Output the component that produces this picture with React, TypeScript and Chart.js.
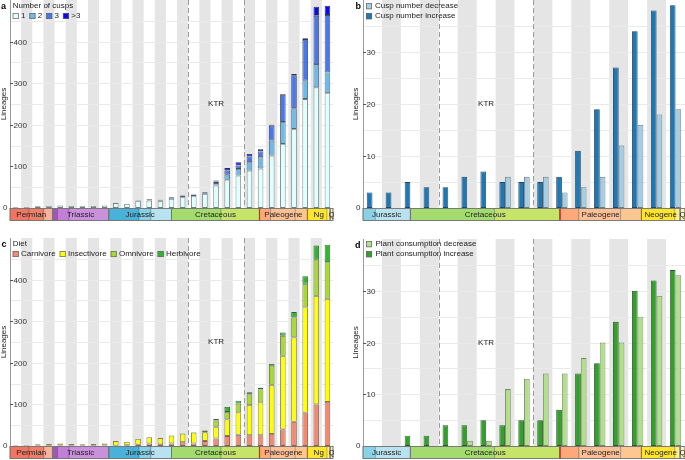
import React, { useEffect, useRef } from 'react';
import { Chart, registerables } from 'chart.js';
Chart.register(...registerables);

const FONT = '"Liberation Sans", Arial, Helvetica, sans-serif';
const BIN = 10; // Myr per bin
const STRIPE = '#E5E5E5';

// ---- categories (time bins, Ma) ----
const binsLong = ['290-280', '280-270', '270-260', '260-250', '250-240', '240-230', '230-220', '220-210', '210-200', '200-190', '190-180', '180-170', '170-160', '160-150', '150-140', '140-130', '130-120', '120-110', '110-100', '100-90', '90-80', '80-70', '70-60', '60-50', '50-40', '40-30', '30-20', '20-10', '10-0'];
const binsShort = ['170-160', '160-150', '150-140', '140-130', '130-120', '120-110', '110-100', '100-90', '90-80', '80-70', '70-60', '60-50', '50-40', '40-30', '30-20', '20-10', '10-0'];

// ---- panel a: number of cusps ----
const cusp1 = [2, 2, 4, 5, 6, 5, 4, 5, 6, 12, 10, 17, 18, 16, 22, 26, 29, 34, 54, 68, 78, 90, 95, 126, 154, 190, 262, 290, 276];
const cusp2 = [0, 0, 0, 0, 0, 0, 0, 0, 0, 0, 0, 1, 1, 2, 2, 3, 3, 2, 6, 12, 16, 20, 27, 36, 53, 50, 44, 56, 50];
const cusp3 = [0, 0, 0, 0, 0, 0, 0, 0, 0, 0, 0, 0, 2, 2, 2, 1, 1, 2, 4, 10, 8, 14, 14, 36, 65, 78, 98, 116, 138];
const cusp4 = [0, 0, 0, 0, 0, 0, 0, 0, 0, 0, 0, 0, 0, 0, 0, 0, 0, 0, 2, 6, 8, 6, 5, 2, 2, 4, 4, 22, 22];

// ---- panel b: cusp number change ----
const cuspIncrease = [3, 3, 5, 4, 4, 6, 7, 5, 5, 5, 6, 11, 19, 27, 34, 38, 39];
const cuspDecrease = [0, 0, 0, 0, 0, 0, 0, 6, 6, 6, 3, 4, 6, 12, 16, 18, 19];

// ---- panel c: diet ----
const carnivore = [1, 1, 1, 1, 1, 1, 1, 1, 1, 1, 2, 3, 6, 4, 6, 9, 6, 12, 18, 24, 27, 26, 26, 29, 40, 58, 80, 100, 106];
const insectivore = [1, 1, 3, 4, 5, 4, 3, 4, 5, 11, 8, 14, 15, 15, 19, 21, 26, 21, 28, 40, 54, 72, 79, 118, 177, 203, 253, 261, 248];
const omnivore = [0, 0, 0, 0, 0, 0, 0, 0, 0, 0, 0, 0, 0, 0, 0, 0, 0, 4, 15, 18, 21, 26, 31, 46, 48, 48, 57, 87, 88];
const herbivore = [0, 0, 0, 0, 0, 0, 0, 0, 0, 0, 0, 0, 0, 0, 0, 0, 1, 1, 4, 12, 7, 5, 4, 5, 8, 13, 18, 34, 42];

// ---- panel d: plant consumption change ----
const plantIncrease = [0, 0, 2, 2, 4, 4, 5, 4, 5, 5, 7, 14, 16, 24, 30, 32, 34];
const plantDecrease = [0, 0, 0, 0, 0, 1, 1, 11, 13, 14, 14, 17, 20, 20, 25, 29, 33];

// ---- axis ticks ----
const ticksLarge = [100, 200, 300, 400];
const ticksSmall = [10, 20, 30];

// ---- geological time scale (Ma) ----
const epochNames = ['Cisuralian', 'Guadalupian', 'Lopingian', 'Early Triassic', 'Middle Triassic', 'Late Triassic', 'Early Jurassic', 'Middle Jurassic', 'Late Jurassic', 'Early Cretaceous', 'Late Cretaceous', 'Paleocene', 'Eocene', 'Oligocene', 'Miocene', 'Pliocene', 'Quaternary'];
const epochStart = [298.9, 273.0, 259.5, 251.9, 247.2, 237.0, 201.3, 174.1, 163.5, 145.0, 100.5, 66.0, 56.0, 33.9, 23.03, 5.33, 2.58];
const epochEnd = [273.0, 259.5, 251.9, 247.2, 237.0, 201.3, 174.1, 163.5, 145.0, 100.5, 66.0, 56.0, 33.9, 23.03, 5.33, 2.58, 0];
const epochColors = ['#F07562', '#F37E66', '#FAB29E', '#A555B8', '#C27FD6', '#C991DC', '#48B2DB', '#88D1E6', '#B9E2F1', '#A3DB6E', '#C6E46A', '#FDA97A', '#FDBF94', '#FEC690', '#FFE52C', '#FFF08E', '#FFF2C2'];
const periodLong = ['Permian', 'Triassic', 'Jurassic', 'Cretaceous', 'Paleogene', 'Neogene', 'Q'];
const periodShort = ['Permian', 'Triassic', 'Jurassic', 'Cretaceous', 'Paleogene', 'Ng', 'Q'];
const periodStart = [298.9, 251.9, 201.3, 145.0, 66.0, 23.03, 2.58];
const periodEnd = [251.9, 201.3, 145.0, 66.0, 23.03, 2.58, 0];
const ktrStart = 130;
const ktrEnd = 80;
const kpg = 66;

type Panel = {
  letter: string;
  pos: { left: number; top: number; width: number; height: number };
  padding: { left: number; right: number; top: number; bottom: number };
  labels: string[];
  startAge: number;
  datasets: any[];
  stacked: boolean;
  barPct: number;
  catPct: number;
  yMax: number;
  yMinor: number;
  yTicks: number[];
  legendTitle?: string;
  legendRows: number[][];
  legendX: number;
  legendY: number;
  legendTextGap: number;
  periodNames: string[];
  clipLabels: boolean;
  letterX: number;
  letterY: number;
  titleX: number;
};

function makeDecor(p: Panel) {
  return {
    id: 'decor',
    beforeDatasetsDraw(chart: any) {
      const { ctx, chartArea: ca } = chart;
      const xs = chart.scales.x;
      const ys = chart.scales.y;
      const n = chart.data.labels.length;
      const px = (age: number) => xs.getPixelForValue((p.startAge - age) / BIN - 0.5);
      ctx.save();
      ctx.fillStyle = '#FFFFFF';
      ctx.fillRect(ca.left, ca.top, ca.right - ca.left, ca.bottom - ca.top);
      ctx.fillStyle = STRIPE;
      for (let i = 1; i < n; i += 2) {
        const x0 = xs.getPixelForValue(i - 0.5);
        const x1 = xs.getPixelForValue(i + 0.5);
        ctx.fillRect(x0, ca.top, x1 - x0, ca.bottom - ca.top);
      }
      ctx.strokeStyle = '#EAEAEA';
      ctx.lineWidth = 1;
      for (let v = p.yMinor; v < p.yMax; v += p.yMinor) {
        const y = Math.round(ys.getPixelForValue(v)) + 0.5;
        ctx.beginPath();
        ctx.moveTo(ca.left, y);
        ctx.lineTo(ca.right, y);
        ctx.stroke();
      }
      ctx.strokeStyle = '#9A9A9A';
      ctx.setLineDash([5, 3]);
      for (const age of [ktrStart, ktrEnd]) {
        const x = Math.round(px(age)) + 0.5;
        ctx.beginPath();
        ctx.moveTo(x, ca.top);
        ctx.lineTo(x, ca.bottom);
        ctx.stroke();
      }
      ctx.setLineDash([]);
      ctx.restore();
    },
    afterDatasetsDraw(chart: any) {
      const { ctx, chartArea: ca } = chart;
      const xs = chart.scales.x;
      const ys = chart.scales.y;
      const px = (age: number) => xs.getPixelForValue((p.startAge - age) / BIN - 0.5);
      const midY = (ca.top + ca.bottom) / 2;
      ctx.save();
      ctx.font = `8px ${FONT}`;
      ctx.textBaseline = 'middle';
      // KTR label
      ctx.fillStyle = '#222';
      ctx.textAlign = 'center';
      ctx.fillText('KTR', px((ktrStart + ktrEnd) / 2), midY);
      // left axis
      ctx.strokeStyle = '#9A9A9A';
      ctx.lineWidth = 1;
      const ax = Math.round(ca.left) + 0.5;
      ctx.beginPath();
      ctx.moveTo(ax, ca.top);
      ctx.lineTo(ax, ca.bottom);
      ctx.stroke();
      // ticks (inside)
      ctx.strokeStyle = '#555';
      ctx.textAlign = 'left';
      ctx.fillStyle = '#333';
      for (const v of p.yTicks) {
        const y = Math.round(ys.getPixelForValue(v)) + 0.5;
        ctx.beginPath();
        ctx.moveTo(ca.left, y);
        ctx.lineTo(ca.left + 3, y);
        ctx.stroke();
        ctx.fillText(String(v), ca.left + 3.5, y);
      }
      ctx.textAlign = 'right';
      ctx.fillText('0', ca.left - 2.5, ys.getPixelForValue(0));
      // y title
      ctx.save();
      ctx.translate(p.titleX, midY);
      ctx.rotate(-Math.PI / 2);
      ctx.textAlign = 'center';
      ctx.fillStyle = '#222';
      ctx.fillText('Lineages', 0, 0);
      ctx.restore();
      // time bar
      const t0 = ca.bottom;
      const t1 = ca.bottom + 13;
      for (let i = 0; i < epochNames.length; i++) {
        const s = Math.min(epochStart[i], p.startAge);
        const e = Math.max(epochEnd[i], 0);
        if (s <= e) continue;
        const x0 = px(s);
        const x1 = px(e);
        ctx.fillStyle = epochColors[i];
        ctx.fillRect(x0, t0, x1 - x0, t1 - t0);
        ctx.strokeStyle = 'rgba(0,0,0,0.28)';
        ctx.lineWidth = 0.7;
        ctx.strokeRect(x0, t0 + 0.5, x1 - x0, t1 - t0 - 1);
      }
      for (let i = 0; i < periodStart.length; i++) {
        const s = Math.min(periodStart[i], p.startAge);
        const e = Math.max(periodEnd[i], 0);
        if (s <= e) continue;
        const x0 = px(s);
        const x1 = px(e);
        ctx.strokeStyle = '#777';
        ctx.lineWidth = 0.9;
        ctx.strokeRect(x0, t0 + 0.5, x1 - x0, t1 - t0 - 1);
      }
      // K-Pg boundary
      ctx.strokeStyle = '#E8221B';
      ctx.lineWidth = 1.2;
      const kx = px(kpg);
      ctx.beginPath();
      ctx.moveTo(kx, t0 + 0.5);
      ctx.lineTo(kx, t1 - 0.5);
      ctx.stroke();
      // period labels
      ctx.fillStyle = '#222';
      ctx.textAlign = 'center';
      for (let i = 0; i < p.periodNames.length; i++) {
        const s = Math.min(periodStart[i], p.startAge);
        const e = Math.max(periodEnd[i], 0);
        if (s <= e) continue;
        const x0 = px(s);
        const x1 = px(e);
        ctx.save();
        if (p.clipLabels) {
          ctx.beginPath();
          ctx.rect(x0 - 1, t0, x1 - x0 + 2, t1 - t0);
          ctx.clip();
        }
        ctx.fillText(p.periodNames[i], (x0 + x1) / 2, (t0 + t1) / 2 + 0.5);
        ctx.restore();
      }
      // legend
      ctx.textAlign = 'left';
      let ly = p.legendY;
      if (p.legendTitle) {
        ctx.fillStyle = '#222';
        ctx.fillText(p.legendTitle, p.legendX, ly);
        ly += 10;
      }
      for (const row of p.legendRows) {
        let lx = p.legendX;
        for (const di of row) {
          const ds = chart.data.datasets[di];
          ctx.fillStyle = ds.backgroundColor;
          ctx.fillRect(lx, ly - 3, 6, 6);
          ctx.strokeStyle = '#666';
          ctx.lineWidth = 0.7;
          ctx.strokeRect(lx + 0.35, ly - 2.65, 5.3, 5.3);
          ctx.fillStyle = '#222';
          ctx.fillText(ds.label, lx + p.legendTextGap, ly);
          lx += p.legendTextGap + ctx.measureText(ds.label).width + 4;
        }
        ly += 10;
      }
      // panel letter
      ctx.font = `bold 9px ${FONT}`;
      ctx.textBaseline = 'alphabetic';
      ctx.fillStyle = '#000';
      ctx.fillText(p.letter, p.letterX, p.letterY);
      ctx.restore();
    },
  };
}

const barBase = { borderWidth: 0.9, borderSkipped: false as const };

const panels: Panel[] = [
  {
    letter: 'a',
    pos: { left: 0, top: 0, width: 340, height: 230 },
    padding: { left: 10, right: 7, top: 0, bottom: 22 },
    labels: binsLong,
    startAge: 290,
    datasets: [
      { label: '1', data: cusp1, backgroundColor: '#E0FFFF', borderColor: '#6E7E7E', ...barBase },
      { label: '2', data: cusp2, backgroundColor: '#6DBBE8', borderColor: '#52627A', ...barBase },
      { label: '3', data: cusp3, backgroundColor: '#4A78EA', borderColor: '#424A6A', ...barBase },
      { label: '>3', data: cusp4, backgroundColor: '#0A0AEE', borderColor: '#2E2E60', ...barBase },
    ],
    stacked: true,
    barPct: 0.5,
    catPct: 1,
    yMax: 500,
    yMinor: 50,
    yTicks: ticksLarge,
    legendTitle: 'Number of cusps',
    legendRows: [[0, 1, 2, 3]],
    legendX: 12.7,
    legendY: 6,
    legendTextGap: 8.3,
    periodNames: periodShort,
    clipLabels: true,
    letterX: 1,
    letterY: 9,
    titleX: 4,
  },
  {
    letter: 'b',
    pos: { left: 340, top: 0, width: 345, height: 230 },
    padding: { left: 23, right: 0, top: 0, bottom: 22 },
    labels: binsShort,
    startAge: 170,
    datasets: [
      { label: 'Cusp number increase', data: cuspIncrease, backgroundColor: '#1F78B4', borderColor: '#23435E', ...barBase },
      { label: 'Cusp number decrease', data: cuspDecrease, backgroundColor: '#A6CEE3', borderColor: '#6E7C86', ...barBase },
    ],
    stacked: false,
    barPct: 1,
    catPct: 0.6,
    yMax: 40,
    yMinor: 5,
    yTicks: ticksSmall,
    legendRows: [[1], [0]],
    legendX: 26,
    legendY: 6.2,
    legendTextGap: 9,
    periodNames: periodLong,
    clipLabels: false,
    letterX: 15.5,
    letterY: 9,
    titleX: 15.5,
  },
  {
    letter: 'c',
    pos: { left: 0, top: 230, width: 340, height: 230 },
    padding: { left: 10, right: 7, top: 8, bottom: 14 },
    labels: binsLong,
    startAge: 290,
    datasets: [
      { label: 'Carnivore', data: carnivore, backgroundColor: '#F4896D', borderColor: '#7E625A', ...barBase },
      { label: 'Insectivore', data: insectivore, backgroundColor: '#FFFF00', borderColor: '#7E7E48', ...barBase },
      { label: 'Omnivore', data: omnivore, backgroundColor: '#A9D834', borderColor: '#60703F', ...barBase },
      { label: 'Herbivore', data: herbivore, backgroundColor: '#2FB52F', borderColor: '#355F35', ...barBase },
    ],
    stacked: true,
    barPct: 0.5,
    catPct: 1,
    yMax: 500,
    yMinor: 50,
    yTicks: ticksLarge,
    legendTitle: 'Diet',
    legendRows: [[0, 1, 2, 3]],
    legendX: 12.7,
    legendY: 14,
    legendTextGap: 8.3,
    periodNames: periodShort,
    clipLabels: true,
    letterX: 1.5,
    letterY: 17,
    titleX: 3.5,
  },
  {
    letter: 'd',
    pos: { left: 340, top: 230, width: 345, height: 230 },
    padding: { left: 23, right: 0, top: 9, bottom: 14 },
    labels: binsShort,
    startAge: 170,
    datasets: [
      { label: 'Plant consumption increase', data: plantIncrease, backgroundColor: '#33A02C', borderColor: '#2C5A28', ...barBase },
      { label: 'Plant consumption decrease', data: plantDecrease, backgroundColor: '#B2DF8A', borderColor: '#75856A', ...barBase },
    ],
    stacked: false,
    barPct: 1,
    catPct: 0.6,
    yMax: 40,
    yMinor: 5,
    yTicks: ticksSmall,
    legendRows: [[1], [0]],
    legendX: 26,
    legendY: 14.2,
    legendTextGap: 9.5,
    periodNames: periodLong,
    clipLabels: false,
    letterX: 15,
    letterY: 17.5,
    titleX: 15.5,
  },
];

function PanelChart({ p }: { p: Panel }) {
  const ref = useRef<HTMLCanvasElement | null>(null);
  useEffect(() => {
    if (!ref.current) return;
    const chart = new Chart(ref.current, {
      type: 'bar',
      data: {
        labels: p.labels,
        datasets: p.datasets.map((d) => ({ ...d, barPercentage: p.barPct, categoryPercentage: p.catPct })),
      },
      options: {
        responsive: false,
        animation: false,
        devicePixelRatio: 1,
        layout: { padding: p.padding },
        plugins: { legend: { display: false }, tooltip: { enabled: false } },
        scales: {
          x: { type: 'category', display: false, offset: true, stacked: p.stacked },
          y: { type: 'linear', display: false, min: 0, max: p.yMax, stacked: p.stacked },
        },
      },
      plugins: [makeDecor(p)],
    });
    return () => chart.destroy();
  }, [p]);
  return (
    <canvas
      ref={ref}
      width={p.pos.width}
      height={p.pos.height}
      style={{ position: 'absolute', left: p.pos.left, top: p.pos.top, width: p.pos.width, height: p.pos.height }}
    />
  );
}

export default function App() {
  return (
    <div style={{ position: 'absolute', left: 0, top: 0, width: 685, height: 460, background: '#fff', overflow: 'hidden' }}>
      {panels.map((p) => (
        <PanelChart key={p.letter} p={p} />
      ))}
    </div>
  );
}
